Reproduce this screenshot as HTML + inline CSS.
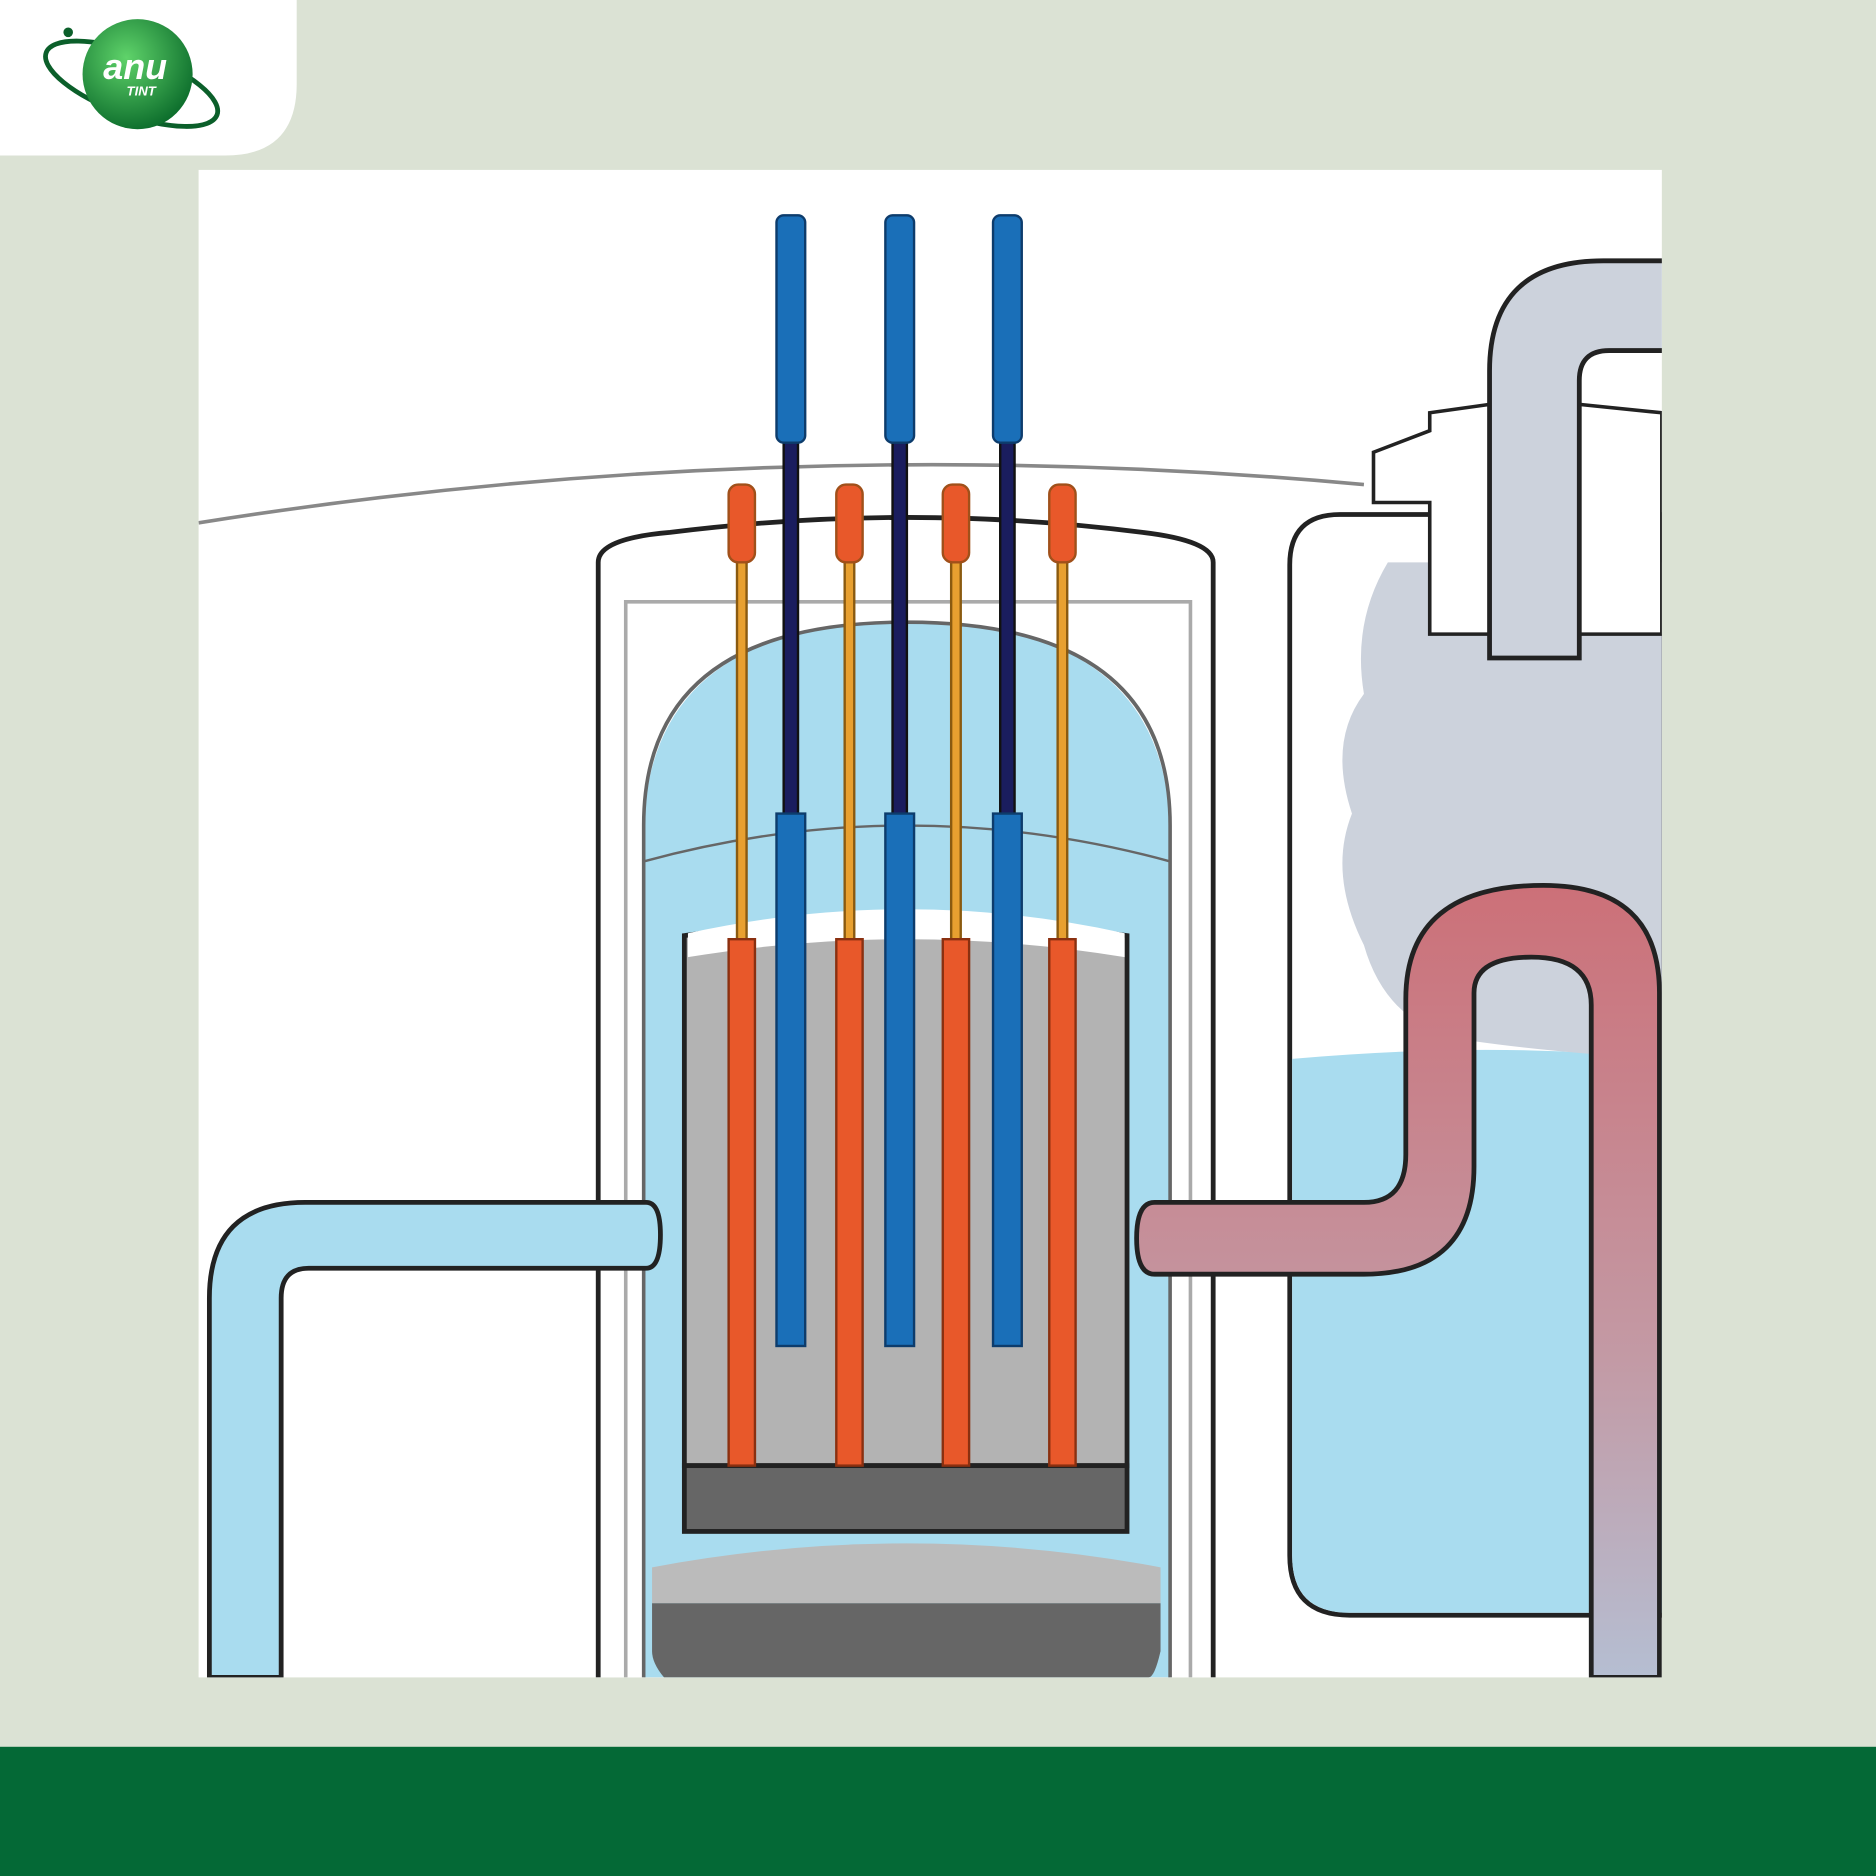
<!DOCTYPE html>
<html><head><meta charset="utf-8"><style>
html,body{margin:0;padding:0;background:#dbe2d4;}
svg{display:block}
</style></head><body>
<svg width="1876" height="1876" viewBox="0 0 1568 1568" xmlns="http://www.w3.org/2000/svg">
<defs>
<linearGradient id="pink" x1="0" y1="0" x2="0" y2="1">
<stop offset="0" stop-color="#cc7078"/><stop offset="0.6" stop-color="#c39aa5"/><stop offset="1" stop-color="#b5bed2"/></linearGradient>
<radialGradient id="globe" cx="0.4" cy="0.35" r="0.7"><stop offset="0" stop-color="#5fd36a"/><stop offset="1" stop-color="#0a6a2a"/></radialGradient>
<clipPath id="panel"><rect x="166" y="142" width="1223" height="1260"/></clipPath>
</defs>
<rect width="1568" height="1568" fill="#dbe2d4"/>
<rect x="0" y="1460" width="1568" height="108" fill="#046936"/>
<path d="M0 0H248V70Q248 130 188 130H0Z" fill="#fff"/>
<ellipse cx="110" cy="70" rx="76" ry="26" fill="none" stroke="#0b5f2a" stroke-width="4" transform="rotate(20 110 70)"/>
<circle cx="115" cy="62" r="46" fill="url(#globe)"/>
<circle cx="57" cy="27" r="4" fill="#0b5f2a"/>
<text x="113" y="66" font-family="Liberation Sans, sans-serif" font-size="30" font-weight="bold" font-style="italic" fill="#fff" text-anchor="middle">anu</text>
<text x="118" y="80" font-family="Liberation Sans, sans-serif" font-size="11" font-weight="bold" font-style="italic" fill="#fff" text-anchor="middle">TINT</text>

<rect x="166" y="142" width="1223" height="1260" fill="#fff"/>
<g clip-path="url(#panel)" stroke="#222" stroke-width="4">
<path d="M166 437Q650 360 1140 405" fill="none" stroke="#888" stroke-width="3"/>
<path d="M1389 430H1120Q1078 430 1078 472V1300Q1078 1350 1128 1350H1389Z" fill="#fff"/>
<path d="M1080 885Q1250 870 1389 885V1348H1128Q1080 1348 1080 1300Z" fill="#a9dcef" stroke="none"/>
<path d="M1160 470Q1130 520 1140 580Q1110 620 1130 680Q1110 730 1140 790Q1160 860 1230 870Q1300 880 1389 885V470Z" fill="#ccd2dc" stroke="none"/>
<path d="M1148 378L1195 360V345L1245 338V530H1195V420H1148Z" fill="#fff" stroke-width="3"/>
<path d="M1320 338L1389 345V530H1320Z" fill="#fff" stroke-width="3"/>
<path d="M1245 550V310Q1245 218 1340 218H1392V293H1345Q1320 293 1320 318V550Z" fill="#ccd2dc"/>
<path d="M500 1402V470Q500 450 560 445Q760 420 955 445Q1014 452 1014 470V1402" fill="#fff"/>
<path d="M523 1402V503H995V1402" fill="none" stroke="#aaa" stroke-width="3"/>
<path d="M538 1402V700Q538 520 758 520Q978 520 978 700V1402Z" fill="#a9dcef" stroke="none"/>
<path d="M538 1402V690Q538 520 758 520Q978 520 978 690V1402" fill="none" stroke="#666" stroke-width="3"/>
<path d="M538 720Q758 660 978 720" fill="none" stroke="#666" stroke-width="2"/>
<path d="M545 1310Q758 1270 970 1310V1340H545Z" fill="#bbb" stroke="none"/>
<path d="M545 1340H970V1380Q965 1402 960 1402H555Q545 1390 545 1380Z" fill="#666" stroke="none"/>
<path d="M572 1225V782Q758 755 942 782V1225Z" fill="#b3b3b3"/>
<path d="M575 780Q758 740 940 780L940 800Q758 770 575 800Z" fill="#fff" stroke="none"/>
<rect x="572" y="1225" width="370" height="55" fill="#666"/>
<path d="M175 1402V1085Q175 1005 255 1005H540Q552 1005 552 1032Q552 1060 540 1060H258Q235 1060 235 1085V1402Z" fill="#a9dcef"/>
<path d="M1387 1402V830Q1387 740 1290 740Q1175 740 1175 835V965Q1175 1005 1140 1005H965Q950 1005 950 1035Q950 1065 965 1065H1140Q1232 1065 1232 975V830Q1232 800 1280 800Q1330 800 1330 840V1402Z" fill="url(#pink)"/>
</g>
<g>
<g id="f" transform="translate(620 0)">
<rect x="-4" y="460" width="8" height="330" fill="#e8a030" stroke="#8a5a10" stroke-width="2"/>
<rect x="-11" y="405" width="22" height="65" rx="8" fill="#e8582a" stroke="#a0501a" stroke-width="2"/>
<rect x="-11" y="785" width="22" height="440" fill="#e8582a" stroke="#8a3010" stroke-width="2"/>
</g>
<use href="#f" transform="translate(90 0)"/>
<use href="#f" transform="translate(179 0)"/>
<use href="#f" transform="translate(268 0)"/>
</g>
<g>
<g id="c" transform="translate(661 0)">
<rect x="-6" y="360" width="12" height="330" fill="#1a1d5e" stroke="#111" stroke-width="2"/>
<rect x="-12" y="180" width="24" height="190" rx="6" fill="#1a6fb8" stroke="#0d3c6c" stroke-width="2"/>
<rect x="-12" y="680" width="24" height="445" fill="#1a6fb8" stroke="#0d3c6c" stroke-width="2"/>
</g>
<use href="#c" transform="translate(91 0)"/>
<use href="#c" transform="translate(181 0)"/>
</g>
</svg>
</body></html>
